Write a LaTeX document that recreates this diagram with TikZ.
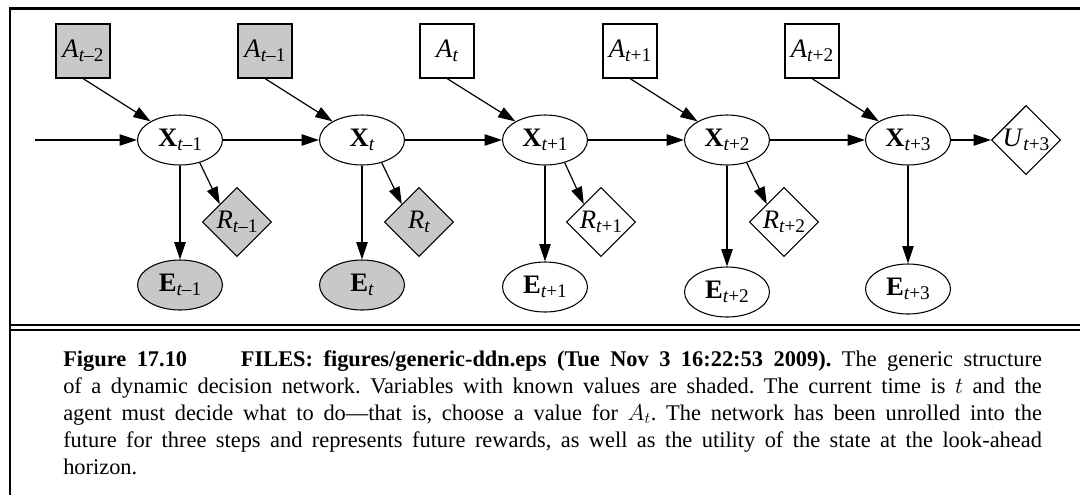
\documentclass[tikz,border=0pt]{standalone}
\usepackage{fontspec}
\setmainfont{Liberation Serif}
\usepackage{xcolor}
\usetikzlibrary{arrows.meta,shapes.geometric}

\definecolor{shade}{RGB}{200,200,200}
% time index below the letter
\newcommand{\tsub}[1]{\raisebox{-.16em}{\fontsize{14.5}{14.5}\selectfont\itshape t\upshape#1}}

\begin{document}
\begin{tikzpicture}[x=.75pt,y=-.75pt,
  decision/.style={draw,rectangle,minimum size=40.5pt,inner sep=0pt,line width=.8pt},
  chance/.style={draw,ellipse,minimum width=63.75pt,minimum height=37.5pt,
    inner sep=0pt,line width=.8pt},
  utility/.style={draw,diamond,minimum size=51.75pt,inner sep=0pt,line width=.8pt},
  known/.style={fill=shade},
  label/.style={font=\fontsize{20}{22}\selectfont},
  link/.style={-{Triangle[length=13pt,width=8.5pt]},line width=.9pt},
  caption/.style={anchor=base west,inner sep=0pt,text width=734pt,align=justify,
    font=\fontsize{16.8}{20.25}\selectfont}]
\useasboundingbox (0,0) rectangle (1080,494);
% frame
\draw[line width=1.8pt] (10,500) -- (10,8.5) -- (1090,8.5);
\draw[line width=1.5pt] (10,325) -- (1090,325);
\draw[line width=1.5pt] (10,329.5) -- (1090,329.5);

% actions
\node[decision,known,label] (at2) at (83,51) {\textit{A}\tsub{\textendash2}};
\node[decision,known,label] (at1) at (265,51) {\textit{A}\tsub{\textendash1}};
\node[decision,label] (at) at (447,51) {\textit{A}\tsub{}};
\node[decision,label] (ap1) at (630,51) {\textit{A}\tsub{+1}};
\node[decision,label] (ap2) at (812,51) {\textit{A}\tsub{+2}};
% states
\coordinate (in) at (35,140);
\node[chance,label] (xt1) at (180,140) {\textbf{X}\tsub{\textendash1}};
\node[chance,label] (xt) at (362,140) {\textbf{X}\tsub{}};
\node[chance,label] (xp1) at (545,140) {\textbf{X}\tsub{+1}};
\node[chance,label] (xp2) at (727,140) {\textbf{X}\tsub{+2}};
\node[chance,label] (xp3) at (908,140) {\textbf{X}\tsub{+3}};
\node[utility,label] (up3) at (1026,140) {\textit{U}\tsub{+3}};
% rewards
\node[utility,known,label] (rt1) at (237,222) {\textit{R}\tsub{\textendash1}};
\node[utility,known,label] (rt) at (419,222) {\textit{R}\tsub{}};
\node[utility,label] (rp1) at (601,222) {\textit{R}\tsub{+1}};
\node[utility,label] (rp2) at (784,222) {\textit{R}\tsub{+2}};
% evidence
\node[chance,known,label] (et1) at (180,285) {\textbf{E}\tsub{\textendash1}};
\node[chance,known,label] (et) at (362,285) {\textbf{E}\tsub{}};
\node[chance,label] (ep1) at (545,287) {\textbf{E}\tsub{+1}};
\node[chance,label] (ep2) at (727,292) {\textbf{E}\tsub{+2}};
\node[chance,label] (ep3) at (908,289) {\textbf{E}\tsub{+3}};

\draw[link] (in)--(xt1);
\draw[link] (xt1)--(xt);
\draw[link] (xt)--(xp1);
\draw[link] (xp1)--(xp2);
\draw[link] (xp2)--(xp3);
\draw[link] (xp3)--(up3);
\draw[link] (at2.south)--(xt1);
\draw[link] (at1.south)--(xt);
\draw[link] (at.south)--(xp1);
\draw[link] (ap1.south)--(xp2);
\draw[link] (ap2.south)--(xp3);
\draw[link] (xt1)--(et1);
\draw[link] (xt)--(et);
\draw[link] (xp1)--(ep1);
\draw[link] (xp2)--(ep2);
\draw[link] (xp3)--(ep3);
\draw[link] (xt1.-49)--(rt1.134);
\draw[link] (xt.-49)--(rt.134);
\draw[link] (xp1.-49)--(rp1.134);
\draw[link] (xp2.-49)--(rp2.134);

\node[caption] (cap) at (63,366) {\hyphenpenalty=10000\frenchspacing
\textbf{Figure 17.10}\hspace{2.4em}\textbf{FILES: figures/generic-ddn.eps (Tue Nov 3 16:22:53 2009).} The generic structure\linebreak
of a dynamic decision network. Variables with known values are shaded. The current time is $t$ and the\linebreak
agent must decide what to do\textemdash that is, choose a value for $A_t$. The network has been unrolled into the\linebreak
future for three steps and represents future rewards, as well as the utility of the state at the look-ahead\linebreak
horizon.};
\end{tikzpicture}
\end{document}
